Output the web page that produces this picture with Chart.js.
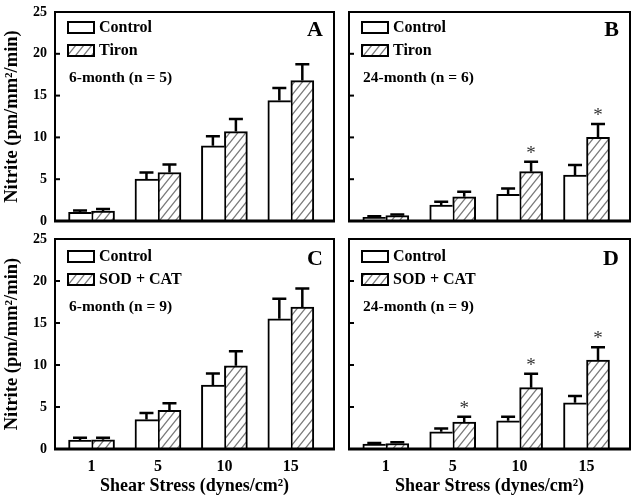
<!DOCTYPE html>
<html lang="en">
<head>
<meta charset="UTF-8">
<title>Nitrite vs Shear Stress</title>
<script src="https://cdn.jsdelivr.net/npm/chart.js"></script>
<style>
  body { margin: 0; background: #fff; }
  #wrap { position: relative; width: 639px; height: 500px; background: #fff; }
  #wrap canvas { position: absolute; left: 0; top: 0; }
</style>
</head>
<body>
<div id="wrap">
  <canvas id="panelA" width="639" height="500"></canvas>
  <canvas id="panelB" width="639" height="500"></canvas>
  <canvas id="panelC" width="639" height="500"></canvas>
  <canvas id="panelD" width="639" height="500"></canvas>
</div>
<script>
// x categories (shear stress, dynes/cm2) and their slot on the x axis
const shearLabels = ['1', '5', '10', '15'];
const xSlots = [1, 2, 3, 4];

// A: 6-month, Tiron (n = 5)
const controlA = [1.05, 5.0, 9.0, 14.4];
const controlErrA = [0.2, 0.8, 1.15, 1.5];
const tironA = [1.2, 5.8, 10.7, 16.8];
const tironErrA = [0.25, 0.95, 1.5, 1.95];
const starsA = [false, false, false, false];

// B: 24-month, Tiron (n = 6)
const controlB = [0.45, 1.9, 3.2, 5.5];
const controlErrB = [0.12, 0.4, 0.7, 1.2];
const tironB = [0.65, 2.9, 5.9, 10.0];
const tironErrB = [0.12, 0.6, 1.2, 1.6];
const starsB = [false, false, true, true];

// C: 6-month, SOD + CAT (n = 9)
const controlC = [1.05, 3.5, 7.6, 15.5];
const controlErrC = [0.28, 0.8, 1.4, 2.4];
const sodCatC = [1.1, 4.6, 9.9, 16.9];
const sodCatErrC = [0.25, 0.85, 1.75, 2.2];
const starsC = [false, false, false, false];

// D: 24-month, SOD + CAT (n = 9)
const controlD = [0.6, 2.05, 3.35, 5.5];
const controlErrD = [0.12, 0.4, 0.5, 0.8];
const sodCatD = [0.65, 3.2, 7.3, 10.6];
const sodCatErrD = [0.15, 0.65, 1.65, 1.5];
const starsD = [false, true, true, true];

const FONT = "'Liberation Serif', 'Times New Roman', serif";
Chart.defaults.font.family = FONT;
Chart.defaults.color = '#000';

function makeHatch() {
    const w = 8, h = 10;
    const c = document.createElement('canvas');
    c.width = w; c.height = h;
    const g = c.getContext('2d');
    g.fillStyle = '#fff';
    g.fillRect(0, 0, w, h);
    g.strokeStyle = '#7a7a7a';
    g.lineWidth = 1.3;
    g.beginPath();
    g.moveTo(-w, 2 * h); g.lineTo(2 * w, -h);
    g.moveTo(-2 * w, 2 * h); g.lineTo(w, -h);
    g.moveTo(0, 2 * h); g.lineTo(3 * w, -h);
    g.stroke();
    return g.createPattern(c, 'repeat');
}
const hatch = makeHatch();

// frame, inward ticks, error bars, stars, legend, panel letter
const decorPlugin = {
    id: 'decor',
    afterDatasetsDraw(chart, args, opts) {
        const ctx = chart.ctx;
        const a = chart.chartArea;
        const y = chart.scales.y;
        ctx.save();
        ctx.strokeStyle = '#000';

        // error bars (upward only)
        ctx.lineWidth = 2.5;
        chart.data.datasets.forEach((ds, di) => {
            const meta = chart.getDatasetMeta(di);
            ds.data.forEach((pt, i) => {
                const bx = meta.data[i].x;
                const y0 = y.getPixelForValue(pt.y);
                const y1 = y.getPixelForValue(pt.y + ds.errors[i]);
                ctx.beginPath();
                ctx.moveTo(bx, y0);
                ctx.lineTo(bx, y1);
                ctx.moveTo(bx - 7, y1);
                ctx.lineTo(bx + 7, y1);
                ctx.stroke();
                if (di === 1 && opts.stars[i]) {
                    ctx.fillStyle = '#333';
                    ctx.font = '19px ' + FONT;
                    ctx.textAlign = 'center';
                    ctx.textBaseline = 'alphabetic';
                    ctx.fillText('*', bx, y1 - 3);
                }
            });
        });

        // inward tick marks on the left edge
        ctx.lineWidth = 2;
        y.ticks.forEach(t => {
            const py = y.getPixelForValue(t.value);
            ctx.beginPath();
            ctx.moveTo(a.left, py);
            ctx.lineTo(a.left + 5, py);
            ctx.stroke();
        });

        // frame
        ctx.lineWidth = 2;
        ctx.strokeRect(a.left, a.top, a.right - a.left, a.bottom - a.top);
        ctx.lineWidth = 3;
        ctx.beginPath();
        ctx.moveTo(a.left - 1, a.bottom);
        ctx.lineTo(a.right + 1, a.bottom);
        ctx.stroke();

        // legend
        ctx.font = 'bold 16px ' + FONT;
        ctx.textAlign = 'left';
        ctx.textBaseline = 'middle';
        chart.data.datasets.forEach((ds, di) => {
            const sx = a.left + 13;
            const sy = a.top + opts.legendTop + di * 23;
            ctx.fillStyle = ds.backgroundColor;
            ctx.fillRect(sx, sy, 26, 11);
            ctx.lineWidth = 2;
            ctx.strokeRect(sx, sy, 26, 11);
            ctx.fillStyle = '#000';
            ctx.fillText(ds.label, sx + 31, sy + 6);
        });
        ctx.font = 'bold 15.5px ' + FONT;
        ctx.fillText(opts.note, a.left + 14, a.top + opts.legendTop + 56);

        // panel letter
        ctx.font = 'bold 22px ' + FONT;
        ctx.textAlign = 'right';
        ctx.fillText(opts.letter, a.right - 11, a.top + opts.legendTop + 8);
        ctx.restore();
    }
};

function toPoints(values) {
    return values.map((v, i) => ({ x: xSlots[i], y: v }));
}

function makePanel(canvasId, cfg) {
    const showY = cfg.col === 0;
    const showX = cfg.row === 1;
    new Chart(document.getElementById(canvasId), {
        type: 'bar',
        data: {
            datasets: [{
                label: 'Control',
                data: toPoints(cfg.control),
                errors: cfg.controlErr,
                backgroundColor: '#fff',
                borderColor: '#000',
                borderWidth: { top: 2, left: 2, right: 0, bottom: 0 },
                borderSkipped: 'start',
                barThickness: 23
            }, {
                label: cfg.treatName,
                data: toPoints(cfg.treat),
                errors: cfg.treatErr,
                backgroundColor: hatch,
                borderColor: '#000',
                borderWidth: { top: 2, left: 2, right: 2, bottom: 0 },
                borderSkipped: 'start',
                barThickness: 23
            }]
        },
        options: {
            responsive: false,
            animation: false,
            events: [],
            layout: {
                padding: {
                    left: showY ? 0 : 349,
                    right: cfg.col === 0 ? 305 : 9,
                    top: cfg.row === 0 ? 12 : 239,
                    bottom: cfg.row === 0 ? 279 : 3
                }
            },
            plugins: {
                legend: { display: false },
                tooltip: { enabled: false },
                decor: { stars: cfg.stars, note: cfg.note, letter: cfg.letter, legendTop: cfg.row === 0 ? 10 : 12 }
            },
            scales: {
                x: {
                    type: 'linear',
                    offset: false,
                    min: 0.45,
                    max: 4.65,
                    grid: { display: false, drawTicks: false },
                    border: { display: false },
                    afterBuildTicks: s => { s.ticks = xSlots.map(v => ({ value: v })); },
                    afterFit: s => {
                        s.height = showX ? 48 : 0;
                        s.paddingLeft = 0; s.paddingRight = 0;
                    },
                    ticks: {
                        display: showX,
                        padding: 8,
                        font: { size: 16, weight: 'bold' },
                        callback: (v, i) => shearLabels[i]
                    },
                    title: {
                        display: showX,
                        text: 'Shear Stress (dynes/cm²)',
                        font: { size: 18, weight: 'bold' },
                        padding: { top: 0, bottom: 0 }
                    }
                },
                y: {
                    min: 0,
                    max: 25,
                    grid: { display: false, drawTicks: false },
                    border: { display: false },
                    afterFit: s => {
                        s.width = showY ? 55 : 0;
                        s.paddingTop = 0; s.paddingBottom = 0;
                    },
                    ticks: {
                        display: showY,
                        stepSize: 5,
                        padding: 8,
                        font: { size: 14, weight: 'bold' }
                    },
                    title: {
                        display: showY,
                        text: 'Nitrite (pm/mm²/min)',
                        font: { size: 18.5, weight: 'bold' },
                        padding: { top: 1, bottom: 0 }
                    }
                }
            }
        },
        plugins: [decorPlugin]
    });
}

makePanel('panelA', { row: 0, col: 0, letter: 'A', note: '6-month (n = 5)', treatName: 'Tiron',
    control: controlA, controlErr: controlErrA, treat: tironA, treatErr: tironErrA, stars: starsA });
makePanel('panelB', { row: 0, col: 1, letter: 'B', note: '24-month (n = 6)', treatName: 'Tiron',
    control: controlB, controlErr: controlErrB, treat: tironB, treatErr: tironErrB, stars: starsB });
makePanel('panelC', { row: 1, col: 0, letter: 'C', note: '6-month (n = 9)', treatName: 'SOD + CAT',
    control: controlC, controlErr: controlErrC, treat: sodCatC, treatErr: sodCatErrC, stars: starsC });
makePanel('panelD', { row: 1, col: 1, letter: 'D', note: '24-month (n = 9)', treatName: 'SOD + CAT',
    control: controlD, controlErr: controlErrD, treat: sodCatD, treatErr: sodCatErrD, stars: starsD });
</script>
</body>
</html>
